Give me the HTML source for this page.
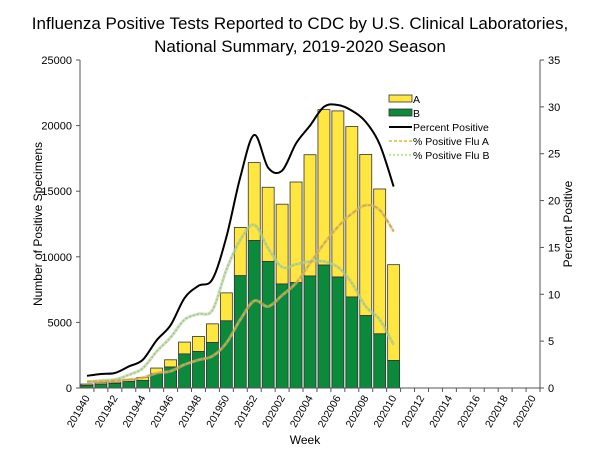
<!DOCTYPE html>
<html><head><meta charset="utf-8"><style>
body{margin:0;background:#fff;}
svg{display:block;font-family:"Liberation Sans",sans-serif;}
</style></head><body>
<svg id="chart" width="600" height="450">
<text x="300" y="29" text-anchor="middle" font-size="17">Influenza Positive Tests Reported to CDC by U.S. Clinical Laboratories,</text>
<text x="300" y="52" text-anchor="middle" font-size="17">National Summary, 2019-2020 Season</text>
<g id="plot"></g>
</svg>
<script>
const weeks=[];
const labels=[];
(function(){for(let w=40;w<=52;w++)weeks.push('2019'+w);for(let w=1;w<=20;w++)weeks.push('2020'+(w<10?'0'+w:w));})();
const totalSpecimens=[300,430,450,630,810,1520,2150,3500,3930,4890,7250,12240,17180,15300,14010,15700,17780,21220,21120,19930,17800,15170,9400];
const fluB=[200,300,350,500,580,1090,1600,2600,2790,3470,5120,8560,11250,9650,7930,8030,8540,9370,8460,6940,5520,4130,2100];
const pctPositive=[1.3,1.5,1.6,2.3,3.0,5.1,6.7,9.6,10.9,11.6,16.1,22.5,27.0,23.5,23.2,26.1,28.0,30.0,30.2,29.6,28.4,26.0,21.5];
const pctFluA=[0.7,0.7,0.8,0.9,1.1,1.6,1.8,2.5,3.0,3.4,4.8,7.3,9.3,8.7,9.9,11.2,13.3,15.4,17.2,18.6,19.5,19.0,16.7];
const pctFluB=[0.6,0.8,0.9,1.4,2.1,3.9,5.4,7.3,7.9,8.3,12.6,15.8,17.4,14.9,12.9,13.2,13.5,13.5,12.9,11.2,8.7,7.3,4.6];
const leftTicks=[0,5000,10000,15000,20000,25000];
const rightTicks=[0,5,10,15,20,25,30,35];

const X0=80,X1=540,Y0=388,Y1=60;
const slot=(X1-X0)/weeks.length;
const xc=i=>X0+slot*(i+0.5);
const yL=v=>Y0-(v/25000)*(Y0-Y1);
const yR=v=>Y0-(v/35)*(Y0-Y1);
const NS='http://www.w3.org/2000/svg';
const plot=document.getElementById('plot');
function mk(tag,attrs,parent){const e=document.createElementNS(NS,tag);for(const k in attrs)e.setAttribute(k,attrs[k]);(parent||plot).appendChild(e);return e;}

// bars
totalSpecimens.forEach((t,i)=>{
  const bw=slot*0.86,x=xc(i)-bw/2;
  const a=mk('rect',{x:x,y:yL(t),width:bw,height:yL(fluB[i])-yL(t),fill:'#ffe640',stroke:'#333','stroke-width':0.8});
  
  
  const b=mk('rect',{x:x,y:yL(fluB[i]),width:bw,height:Y0-yL(fluB[i]),fill:'#0a8a3a',stroke:'#333','stroke-width':0.8});
  
  
});
function smooth(vals){
  const p=vals.map((v,i)=>[xc(i),yR(v)]);
  let d='M'+p[0][0]+','+p[0][1];
  for(let i=0;i<p.length-1;i++){
    const p0=p[i-1]||p[i],p1=p[i],p2=p[i+1],p3=p[i+2]||p2;
    const c1=[p1[0]+(p2[0]-p0[0])/6,p1[1]+(p2[1]-p0[1])/6];
    const c2=[p2[0]-(p3[0]-p1[0])/6,p2[1]-(p3[1]-p1[1])/6];
    d+=' C'+c1+' '+c2+' '+p2;
  }
  return d;
}
[[pctFluB,'#8fe04a','2,2','line-pct-flu-b'],[pctFluA,'#e8a800','4,2','line-pct-flu-a']].forEach(s=>{
  mk('path',{d:smooth(s[0]),fill:'none',stroke:'#bbb','stroke-width':3,opacity:0.6});
  const l=mk('path',{d:smooth(s[0]),fill:'none',stroke:s[1],'stroke-width':1.6,'stroke-dasharray':s[2]});
  
  
});
const pl=mk('path',{d:smooth(pctPositive),fill:'none',stroke:'#000','stroke-width':2});



// axes
const al=mk('line',{x1:X0,y1:Y1,x2:X0,y2:Y0,stroke:'#555','stroke-width':1});


const ar=mk('line',{x1:X1,y1:Y1,x2:X1,y2:Y0,stroke:'#555','stroke-width':1});


const ab=mk('line',{x1:X0,y1:Y0,x2:X1,y2:Y0,stroke:'#555','stroke-width':1});


leftTicks.forEach(v=>{
  mk('line',{x1:X0-4,y1:yL(v),x2:X0,y2:yL(v),stroke:'#555'});
  const t=mk('text',{x:X0-8,y:yL(v)+4,'text-anchor':'end','font-size':11});
  t.textContent=v;
  
  
});
rightTicks.forEach(v=>{
  mk('line',{x1:X1,y1:yR(v),x2:X1+4,y2:yR(v),stroke:'#555'});
  const t=mk('text',{x:X1+8,y:yR(v)+4,'font-size':11});
  t.textContent=v;
  
  
});
weeks.forEach((w,i)=>{
  mk('line',{x1:X0+slot*(i+1),y1:Y0,x2:X0+slot*(i+1),y2:Y0+4,stroke:'#555'});
  if(i%2===0){
    const x=xc(i),y=Y0+8;
    const t=mk('text',{x:x,y:y,'text-anchor':'end','font-size':10.5,transform:'rotate(-60 '+x+' '+y+')',dy:'0.35em'});
    t.textContent=w;
    
    
  }
});
const xt=mk('text',{x:305,y:444,'text-anchor':'middle','font-size':12});
xt.textContent='Week';


const yt=mk('text',{x:0,y:0,'text-anchor':'middle','font-size':12,transform:'translate(42 224) rotate(-90)'});
yt.textContent='Number of Positive Specimens';


const yt2=mk('text',{x:0,y:0,'text-anchor':'middle','font-size':12,transform:'translate(572 224) rotate(-90)'});
yt2.textContent='Percent Positive';



// legend
const lg=mk('g',{});


const items=[['A','rect','#ffe640'],['B','rect','#0a8a3a'],['Percent Positive','line','#000',''],['% Positive Flu A','line','#e8a800','3,2'],['% Positive Flu B','line','#8fe04a','2,2']];
items.forEach((it,k)=>{
  const y=99+k*14;
  if(it[1]==='rect'){mk('rect',{x:389,y:y-4,width:23,height:7,fill:it[2],stroke:'#333','stroke-width':0.8},lg);}
  else{mk('line',{x1:389,y1:y,x2:412,y2:y,stroke:it[2],'stroke-width':it[3]?1.3:2,'stroke-dasharray':it[3]},lg);}
  const t=mk('text',{x:413,y:y+4,'font-size':10.5},lg);
  t.textContent=it[0];
  
  
});
</script>
</body></html>
